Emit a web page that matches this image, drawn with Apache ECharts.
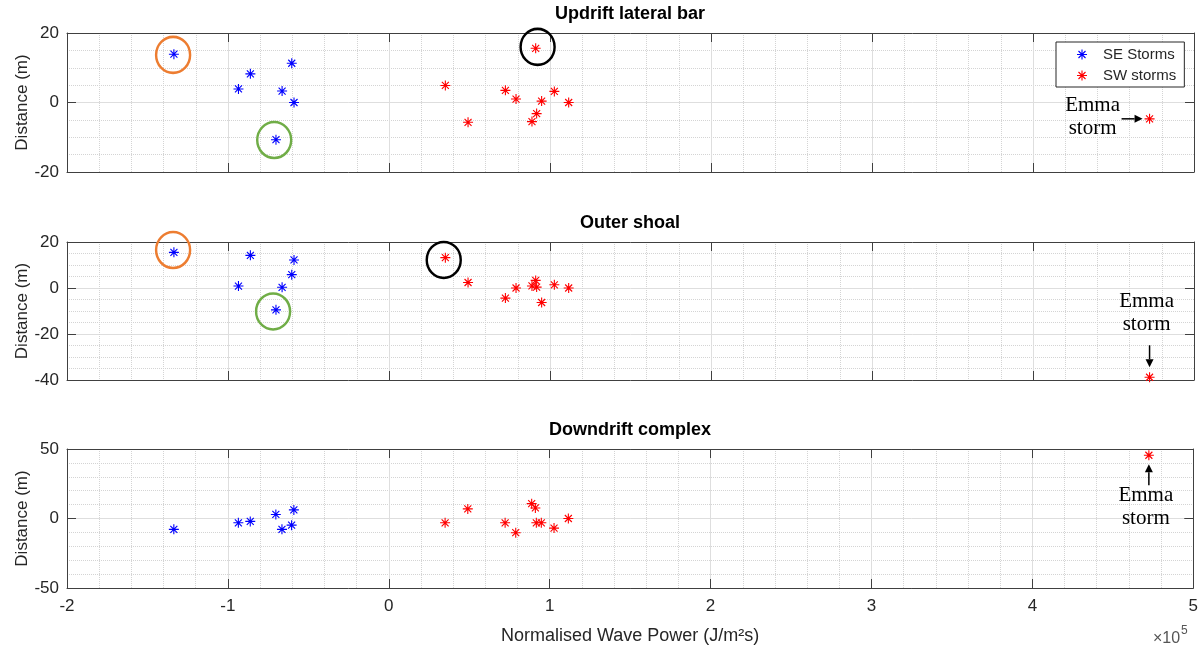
<!DOCTYPE html>
<html>
<head>
<meta charset="utf-8">
<script src="https://cdn.jsdelivr.net/npm/echarts@6/dist/echarts.min.js"></script>
<style>
html, body { margin: 0; background: #fff; }
#chart { width: 1201px; height: 650px; }
</style>
</head>
<body>
<div id="chart"></div>
<script>
// panel titles
var panelTitles = ['Updrift lateral bar', 'Outer shoal', 'Downdrift complex'];

// SE storms (x in 1e5 J/m2s)
var seX = [-1.336, -0.935, -0.861, -0.702, -0.664, -0.604, -0.590];
var seUpdrift = [13.9, 3.9, 8.25, -10.7, 3.3, 11.3, 0];
var seOuter = [15.5, 0.85, 14.2, -9.5, 0.3, 5.8, 12.2];
var seDowndrift = [-7.8, -3.1, -2.1, 2.9, -7.8, -4.8, 6.2];

// SW storms, last one is Emma
var swX = [0.350, 0.491, 0.723, 0.789, 0.888, 0.911, 0.917, 0.948, 1.027, 1.116, 4.724];
var swUpdrift = [4.9, -5.7, 3.5, 1.0, -5.5, 15.6, -3.2, 0.4, 3.2, 0, -4.7];
var swOuter = [13.2, 2.4, -4.4, 0, 0.9, 3.3, 0.4, -6.3, 1.4, 0, -38.8];
var swDowndrift = [-3.1, 6.9, -3.1, -10.2, 10.7, 7.6, -3.1, -3.1, -6.9, 0, 45.5];

// highlighted storms (ring centres), per panel (only first two panels)
var orangeRing = [[-1.341, 13.7], [-1.341, 16.5]];
var greenRing = [[-0.713, -10.8], [-0.72, -10.2]];
var blackRing = [[0.923, 16.0], [0.34, 12.2]];

// axis ranges
var xRange = [-2, 5, 1];
var yRanges = [[-20, 20, 20], [-40, 20, 20], [-50, 50, 50]];
var yMinorSplits = [4, 4, 5];

var seSets = [seUpdrift, seOuter, seDowndrift];
var swSets = [swUpdrift, swOuter, swDowndrift];

var star = 'path://M-1.1,-10L1.1,-10L1.1,10L-1.1,10Z M-10,-1.1L10,-1.1L10,1.1L-10,1.1Z ' +
    'M-6.2,-7.8L7.8,6.2L6.2,7.8L-7.8,-6.2Z M7.8,-6.2L-6.2,7.8L-7.8,6.2L6.2,-7.8Z';

var myChart = echarts.init(document.getElementById('chart'));

var gridTops = [33, 242, 449];
var gridHeights = [139, 138, 139];
var axisColor = '#404040';
var textColor = '#262626';

function pairs(xs, ys) {
    var out = [];
    for (var i = 0; i < xs.length; i++) out.push([xs[i], ys[i]]);
    return out;
}

var option = {
    animation: false,
    backgroundColor: '#fff',
    title: [],
    legend: {
        data: [
            { name: 'SE Storms', icon: star },
            { name: 'SW storms', icon: star }
        ],
        orient: 'vertical',
        left: 1056,
        top: 42,
        itemWidth: 32,
        itemHeight: 10,
        itemGap: 6,
        padding: [5, 8, 4, 21],
        backgroundColor: '#fff',
        borderColor: '#262626',
        borderWidth: 1,
        borderRadius: 0,
        textStyle: { fontFamily: 'Liberation Sans', fontSize: 15, color: textColor, lineHeight: 15 },
        z: 10
    },
    grid: [],
    xAxis: [],
    yAxis: [],
    series: [],
    graphic: []
};

for (var p = 0; p < 3; p++) {
    option.title.push({
        text: panelTitles[p],
        left: 630,
        top: gridTops[p] - 28,
        textAlign: 'center',
        padding: 0,
        textStyle: { fontFamily: 'Liberation Sans', fontWeight: 'bold', fontSize: 18, color: '#000' }
    });
    option.grid.push({ left: 67, right: 7, top: gridTops[p], height: gridHeights[p] });

    var last = (p === 2);
    option.xAxis.push({
        type: 'value', gridIndex: p, position: 'bottom',
        min: xRange[0], max: xRange[1], interval: xRange[2],
        name: last ? 'Normalised Wave Power (J/m\u00b2s)' : '',
        nameLocation: 'middle', nameGap: 39,
        nameTextStyle: { fontFamily: 'Liberation Sans', fontSize: 18, color: textColor },
        axisLine: { show: true, onZero: false, lineStyle: { color: axisColor, width: 1 } },
        axisTick: { show: true, inside: true, length: 9, lineStyle: { color: axisColor } },
        axisLabel: { show: last, fontFamily: 'Liberation Sans', fontSize: 17, color: textColor, margin: 10 },
        splitLine: { show: true, lineStyle: { color: '#dedede', width: 1 } },
        minorTick: { show: false, splitNumber: 5 },
        minorSplitLine: { show: true, lineStyle: { color: '#d4d4d4', type: 'dotted', width: 1 } }
    });
    option.xAxis.push({
        type: 'value', gridIndex: p, position: 'top',
        min: xRange[0], max: xRange[1], interval: xRange[2],
        axisLine: { show: true, onZero: false, lineStyle: { color: axisColor, width: 1 } },
        axisTick: { show: true, inside: true, length: 9, lineStyle: { color: axisColor } },
        axisLabel: { show: false },
        splitLine: { show: false }
    });
    option.yAxis.push({
        type: 'value', gridIndex: p, position: 'left',
        min: yRanges[p][0], max: yRanges[p][1], interval: yRanges[p][2],
        name: 'Distance (m)', nameLocation: 'middle', nameGap: 36, nameMoveOverlap: false,
        nameTextStyle: { fontFamily: 'Liberation Sans', fontSize: 17, color: textColor },
        axisLine: { show: true, onZero: false, lineStyle: { color: axisColor, width: 1 } },
        axisTick: { show: true, inside: true, length: 9, lineStyle: { color: axisColor } },
        axisLabel: { fontFamily: 'Liberation Sans', fontSize: 17, color: textColor, margin: 8 },
        splitLine: { show: true, lineStyle: { color: '#dedede', width: 1 } },
        minorTick: { show: false, splitNumber: yMinorSplits[p] },
        minorSplitLine: { show: true, lineStyle: { color: '#d4d4d4', type: 'dotted', width: 1 } }
    });
    option.yAxis.push({
        type: 'value', gridIndex: p, position: 'right',
        min: yRanges[p][0], max: yRanges[p][1], interval: yRanges[p][2],
        axisLine: { show: true, onZero: false, lineStyle: { color: axisColor, width: 1 } },
        axisTick: { show: true, inside: true, length: 9, lineStyle: { color: axisColor } },
        axisLabel: { show: false },
        splitLine: { show: false }
    });

    option.series.push({
        name: 'SE Storms', type: 'scatter',
        xAxisIndex: 2 * p, yAxisIndex: 2 * p,
        symbol: star, symbolSize: 10,
        itemStyle: { color: '#0000ff', opacity: 1 },
        data: pairs(seX, seSets[p]), z: 5
    });
    option.series.push({
        name: 'SW storms', type: 'scatter',
        xAxisIndex: 2 * p, yAxisIndex: 2 * p,
        symbol: star, symbolSize: 10,
        itemStyle: { color: '#ff0000', opacity: 1 },
        data: pairs(swX, swSets[p]), z: 5
    });

    if (p < 2) {
        var rings = [[orangeRing, '#ed7d31'], [greenRing, '#70ad47'], [blackRing, '#000000']];
        rings.forEach(function (r) {
            option.series.push({
                name: 'ring', type: 'scatter',
                xAxisIndex: 2 * p, yAxisIndex: 2 * p,
                symbol: 'circle', symbolSize: [34, 36], silent: true,
                itemStyle: { color: 'rgba(0,0,0,0)', borderColor: r[1], borderWidth: 2.5, opacity: 1 },
                data: [r[0][p]], z: 4
            });
        });
    }
}

myChart.setOption(option);

// annotations for Emma storm
function arrow(x1, y1, x2, y2) {
    var dx = x2 - x1, dy = y2 - y1;
    var len = Math.sqrt(dx * dx + dy * dy);
    var ux = dx / len, uy = dy / len;
    var nx = -uy, ny = ux;
    var hl = 8, hw = 4;
    var bx = x2 - ux * hl, by = y2 - uy * hl;
    return [
        { type: 'line', shape: { x1: x1, y1: y1, x2: bx, y2: by }, style: { stroke: '#000', lineWidth: 1.5 }, z: 20 },
        { type: 'polygon', shape: { points: [[x2, y2], [bx + nx * hw, by + ny * hw], [bx - nx * hw, by - ny * hw]] }, style: { fill: '#000' }, z: 20 }
    ];
}
function label(x, y) {
    return {
        type: 'text', x: x, y: y, z: 20,
        style: {
            text: 'Emma\nstorm', align: 'center', verticalAlign: 'middle',
            fontFamily: 'Liberation Serif', fontSize: 21, lineHeight: 23, fill: '#000'
        }
    };
}

var emma = swX.length - 1;
var graphics = [];
var e0 = myChart.convertToPixel({ gridIndex: 0 }, [swX[emma], swUpdrift[emma]]);
graphics = graphics.concat(arrow(e0[0] - 28, e0[1], e0[0] - 7, e0[1]));
graphics.push(label(e0[0] - 57, e0[1] - 2));
var e1 = myChart.convertToPixel({ gridIndex: 1 }, [swX[emma], swOuter[emma]]);
graphics = graphics.concat(arrow(e1[0], e1[1] - 32, e1[0], e1[1] - 10));
graphics.push(label(e1[0] - 3, e1[1] - 64));
var e2 = myChart.convertToPixel({ gridIndex: 2 }, [swX[emma], swDowndrift[emma]]);
graphics = graphics.concat(arrow(e2[0], e2[1] + 30, e2[0], e2[1] + 9));
graphics.push(label(e2[0] - 3, e2[1] + 52));

// exponent of x axis
graphics.push({ type: 'text', x: 1153, y: 631, style: { text: '\u00d710', fontFamily: 'Liberation Sans', fontSize: 16, fill: '#555' } });
graphics.push({ type: 'text', x: 1181, y: 625, style: { text: '5', fontFamily: 'Liberation Sans', fontSize: 12, fill: '#555' } });

myChart.setOption({ graphic: graphics });
</script>
</body>
</html>
